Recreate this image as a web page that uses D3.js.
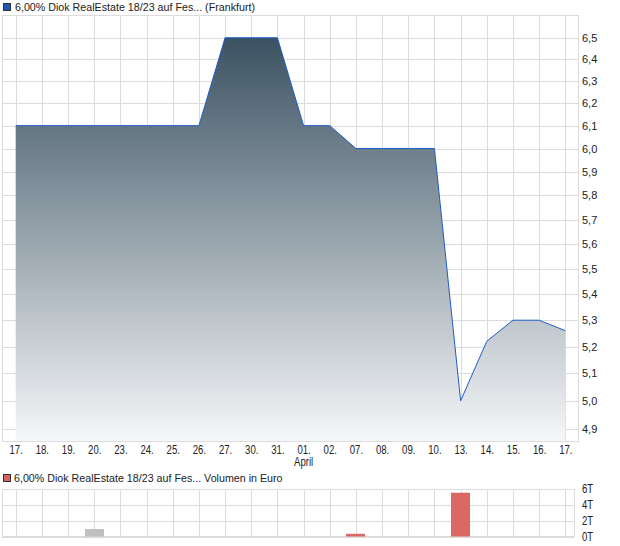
<!DOCTYPE html>
<html>
<head>
<meta charset="utf-8">
<script src="https://cdn.jsdelivr.net/npm/d3@7"></script>
<style>
  body { margin: 0; background: #fff; }
  svg { display: block; }
  text { font-family: "Liberation Sans", Arial, sans-serif; fill: #222; }
</style>
</head>
<body>
<div id="chart"></div>
<script>
'use strict';

const dates = ['17.', '18.', '19.', '20.', '23.', '24.', '25.', '26.', '27.', '30.', '31.',
  '01.', '02.', '07.', '08.', '09.', '10.', '13.', '14.', '15.', '16.', '17.'];
const prices = [6.1, 6.1, 6.1, 6.1, 6.1, 6.1, 6.1, 6.1, 6.5, 6.5, 6.5,
  6.1, 6.1, 6.0, 6.0, 6.0, 6.0, 5.0, 5.22, 5.3, 5.3, 5.26];
// volume in thousand euro, only days with trades
const volIndex = [3, 13, 17];
const volValues = [0.94, 0.34, 5.53];
const volDir = ['flat', 'down', 'down'];
const priceTicks = [4.9, 5.0, 5.1, 5.2, 5.3, 5.4, 5.5, 5.6, 5.7, 5.8, 5.9, 6.0, 6.1, 6.2, 6.3, 6.4, 6.5];
const volTicks = [0, 2, 4, 6];
const monthLabel = { i: 11, text: 'April' };
const title = '6,00% Diok RealEstate 18/23 auf Fes... (Frankfurt)';
const volTitle = '6,00% Diok RealEstate 18/23 auf Fes... Volumen in Euro';

const W = 620, H = 546;
const grid = '#dcdcdc';
const squeeze = 'scale(0.8,1)';

const svg = d3.select('#chart').append('svg')
  .attr('width', W)
  .attr('height', H);

const idx = d3.range(dates.length);

const x = d3.scalePoint()
  .domain(idx)
  .range([3, 578])
  .padding(0.485);

// price axis is logarithmic
const y = d3.scaleLog()
  .domain([4.857, 6.603])
  .range([441, 16]);

drawPriceChart();
drawVolumeChart();

function legendBox(g, lx, ly, color) {
  g.append('rect')
    .attr('x', lx + 0.5)
    .attr('y', ly + 0.5)
    .attr('width', 7)
    .attr('height', 7)
    .attr('fill', color)
    .attr('stroke', '#333')
    .attr('stroke-width', 1);
}

function drawPriceChart() {
  const g = svg.append('g');

  legendBox(g, 3, 3, '#1f55b8');
  g.append('text')
    .attr('x', 15)
    .attr('y', 11)
    .style('font-size', '10.7px')
    .text(title);

  const defs = svg.append('defs');
  const grad = defs.append('linearGradient')
    .attr('id', 'fillGrad')
    .attr('gradientUnits', 'userSpaceOnUse')
    .attr('x1', 0).attr('x2', 0)
    .attr('y1', y(6.5)).attr('y2', 441);
  grad.append('stop').attr('offset', 0).attr('stop-color', '#3b5262');
  grad.append('stop').attr('offset', 1).attr('stop-color', '#f6f7f9');

  // grid
  g.append('g').selectAll('line')
      .data(priceTicks)
    .enter().append('line')
      .attr('x1', 3).attr('x2', 578)
      .attr('y1', d => Math.round(y(d)) + 0.5)
      .attr('y2', d => Math.round(y(d)) + 0.5)
      .attr('stroke', grid);
  g.append('g').selectAll('line')
      .data(idx)
    .enter().append('line')
      .attr('x1', d => Math.round(x(d)) + 0.5)
      .attr('x2', d => Math.round(x(d)) + 0.5)
      .attr('y1', 16).attr('y2', 441)
      .attr('stroke', grid);

  const area = d3.area()
    .x((d, i) => x(i))
    .y0(441)
    .y1(d => y(d));
  g.append('path')
    .datum(prices)
    .attr('d', area)
    .attr('fill', 'url(#fillGrad)');

  const line = d3.line()
    .x((d, i) => x(i))
    .y(d => y(d));
  g.append('path')
    .datum(prices)
    .attr('d', line)
    .attr('fill', 'none')
    .attr('stroke', '#1f5cc8')
    .attr('stroke-width', 1);

  g.append('rect')
    .attr('x', 2.5).attr('y', 15.5)
    .attr('width', 576).attr('height', 426)
    .attr('fill', 'none')
    .attr('stroke', grid);

  // y axis on the right
  const yAxis = d3.axisRight(y)
    .tickValues(priceTicks)
    .tickSize(0)
    .tickPadding(4)
    .tickFormat(d => d3.format('.1f')(d).replace('.', ','));
  const ya = g.append('g')
    .attr('transform', 'translate(578,0)')
    .call(yAxis);
  ya.select('.domain').remove();
  ya.selectAll('text')
    .style('font-size', '11px')
    .style('font-family', '"Liberation Sans", Arial, sans-serif')
    .attr('fill', '#222');

  // x axis
  const xAxis = d3.axisBottom(x)
    .tickSize(0)
    .tickPadding(4)
    .tickFormat(i => dates[i]);
  const xa = g.append('g')
    .attr('transform', 'translate(0,441)')
    .call(xAxis);
  xa.select('.domain').remove();
  xa.selectAll('text')
    .attr('transform', squeeze)
    .style('font-size', '12px')
    .style('font-family', '"Liberation Sans", Arial, sans-serif')
    .attr('fill', '#222');

  g.append('text')
    .attr('transform', 'translate(' + x(monthLabel.i) + ',466) ' + squeeze)
    .attr('text-anchor', 'middle')
    .style('font-size', '12px')
    .text(monthLabel.text);
}

function drawVolumeChart() {
  const g = svg.append('g');

  const vy = d3.scaleLinear()
    .domain([0, 6])
    .range([536.5, 489]);

  legendBox(g, 3, 474, '#d9625f');
  g.append('text')
    .attr('x', 14)
    .attr('y', 482)
    .style('font-size', '10.7px')
    .text(volTitle);

  g.append('g').selectAll('line')
      .data(volTicks)
    .enter().append('line')
      .attr('x1', 2).attr('x2', 574)
      .attr('y1', d => Math.round(vy(d)) + 0.5)
      .attr('y2', d => Math.round(vy(d)) + 0.5)
      .attr('stroke', grid);
  g.append('g').selectAll('line')
      .data(idx)
    .enter().append('line')
      .attr('x1', d => Math.round(x(d)) + 0.5)
      .attr('x2', d => Math.round(x(d)) + 0.5)
      .attr('y1', 489).attr('y2', 537)
      .attr('stroke', grid);
  g.append('rect')
    .attr('x', 2.5).attr('y', 489.5)
    .attr('width', 572).attr('height', 47)
    .attr('fill', 'none')
    .attr('stroke', grid);

  const bw = 19;
  g.append('g').selectAll('rect')
      .data(volIndex)
    .enter().append('rect')
      .attr('x', d => Math.round(x(d) - bw / 2))
      .attr('width', bw)
      .attr('y', (d, k) => vy(volValues[k]))
      .attr('height', (d, k) => vy(0) - vy(volValues[k]))
      .attr('fill', (d, k) => volDir[k] === 'down' ? '#db6865' : '#c0c0c0');

  const vAxis = d3.axisRight(vy)
    .tickValues(volTicks)
    .tickSize(0)
    .tickPadding(0)
    .tickFormat(d => d + 'T');
  const va = g.append('g')
    .attr('transform', 'translate(582,0)')
    .call(vAxis);
  va.select('.domain').remove();
  va.selectAll('text')
    .attr('x', null)
    .attr('transform', squeeze)
    .style('font-size', '12px')
    .style('font-family', '"Liberation Sans", Arial, sans-serif')
    .attr('fill', '#222');
}
</script>
</body>
</html>
